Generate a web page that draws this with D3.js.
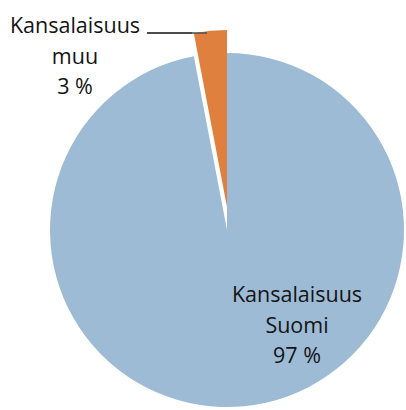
<!DOCTYPE html>
<meta charset="utf-8">
<style>
  body { margin: 0; background: #fff; }
  text { font-family: "Open Sans", sans-serif; font-size: 21.5px; fill: #141414; }
</style>
<svg width="406" height="410"></svg>
<script src="https://cdn.jsdelivr.net/npm/d3@7"></script>
<script>
// slices, in drawing order (the small one starts just left of 12 o'clock)
const categories = ['Kansalaisuus muu', 'Kansalaisuus Suomi'];
const values = [3, 97];
const labelLines = [['Kansalaisuus', 'muu', '3 %'], ['Kansalaisuus', 'Suomi', '97 %']];
const colors = ['#e0803f', '#9ebbd6'];

var svg = d3.select('svg');
var cx = 227, cy = 230, radius = 177;

var small = values[0] / d3.sum(values) * 2 * Math.PI;
var pie = d3.pie().sort(null)
    .startAngle(-small)
    .endAngle(2 * Math.PI - small);

var arc = d3.arc().innerRadius(0).outerRadius(radius);

var g = svg.append('g').attr('transform', 'translate(' + cx + ',' + cy + ')');

var slices = g.selectAll('path')
  .data(pie(values))
  .enter().append('path')
    .attr('d', arc)
    .attr('fill', function(d, i) { return colors[i]; })
    // the small slice is pulled out upwards
    .attr('transform', function(d, i) { return i === 0 ? 'translate(0,-23)' : null; });

// leader line from the label to the orange slice
svg.append('line')
    .attr('x1', 147).attr('y1', 33)
    .attr('x2', 192).attr('y2', 33)
    .attr('stroke', '#111').attr('stroke-width', 1.6);
svg.append('line')
    .attr('x1', 192).attr('y1', 33)
    .attr('x2', 207).attr('y2', 33)
    .attr('stroke', '#555').attr('stroke-width', 1.6);

var labelPos = [[75, 33], [297, 302]];

labelLines.forEach(function(lines, i) {
  var t = svg.append('text')
      .attr('text-anchor', 'middle')
      .attr('x', labelPos[i][0])
      .attr('y', labelPos[i][1]);
  lines.forEach(function(line, j) {
    t.append('tspan')
        .attr('x', labelPos[i][0])
        .attr('dy', j === 0 ? 0 : 30.5)
        .text(line);
  });
});
</script>
